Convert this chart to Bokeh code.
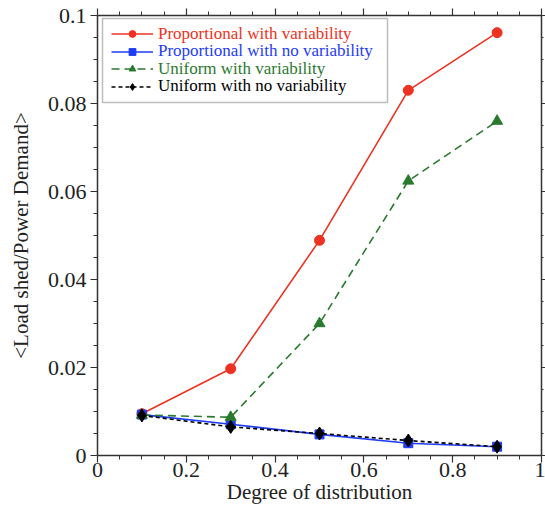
from bokeh.plotting import figure
from bokeh.models import (Legend, LegendItem, LinearAxis, Range1d, SingleIntervalTicker,
                          BoxAnnotation, CustomJSTickFormatter)
from bokeh.embed import file_html
from bokeh.resources import INLINE

# ---- data ----
x_vals = [0.1, 0.3, 0.5, 0.7, 0.9]
prop_var = [0.0095, 0.0197, 0.0489, 0.0830, 0.0961]
prop_novar = [0.0093, 0.0071, 0.0048, 0.0028, 0.0020]
unif_var = [0.0092, 0.0087, 0.0300, 0.0624, 0.0760]
unif_novar = [0.0091, 0.0065, 0.0050, 0.0034, 0.0020]

labels = ["Proportional with variability", "Proportional with no variability",
          "Uniform with variability", "Uniform with no variability"]
x_label = "Degree of distribution"
y_label = "<Load shed/Power Demand>"

FONT = "Liberation Serif"
RED, BLUE, GREEN, BLACK = "#ee3222", "#1e3cf5", "#2a7a2e", "#000000"
AXC = "#333333"

p = figure(width=545, height=510, output_backend="svg", toolbar_location=None,
           x_range=Range1d(0, 1), y_range=Range1d(0, 0.1),
           min_border_left=97, min_border_right=4, min_border_top=15, min_border_bottom=55)
p.outline_line_color = None
p.xgrid.visible = False
p.ygrid.visible = False
p.background_fill_color = "white"

def style_axis(ax, labels_on=True):
    ax.axis_line_color = AXC
    ax.axis_line_width = 1.5
    ax.major_tick_line_color = AXC
    ax.minor_tick_line_color = AXC
    ax.major_tick_line_width = 1.2
    ax.minor_tick_line_width = 1.0
    ax.major_tick_in = 0
    ax.major_tick_out = 7
    ax.minor_tick_in = 0
    ax.minor_tick_out = 4
    ax.major_label_text_font = FONT
    ax.major_label_text_font_size = "22px"
    ax.major_label_text_color = "#222222"
    ax.axis_label_text_font = FONT
    ax.axis_label_text_font_size = "21px"
    ax.axis_label_text_font_style = "normal"
    ax.axis_label_text_color = "#222222"
    if not labels_on:
        ax.formatter = CustomJSTickFormatter(code="return ''")
        ax.major_label_standoff = 0

p.xaxis.ticker = SingleIntervalTicker(interval=0.2, num_minor_ticks=4)
p.yaxis.ticker = SingleIntervalTicker(interval=0.02, num_minor_ticks=4)
p.xaxis.formatter = CustomJSTickFormatter(code="return (tick==0||tick==1) ? tick.toFixed(0) : String(Math.round(tick*10)/10)")
p.yaxis.formatter = CustomJSTickFormatter(code="return tick==0 ? '0' : String(Math.round(tick*100)/100)")
style_axis(p.xaxis[0])
style_axis(p.yaxis[0])
p.xaxis.axis_label = x_label
p.yaxis.axis_label = y_label
p.xaxis.major_label_standoff = 0
p.yaxis.major_label_standoff = 4
p.xaxis.axis_label_standoff = 0
p.yaxis.axis_label_standoff = 12

top_ax = LinearAxis(ticker=SingleIntervalTicker(interval=0.2, num_minor_ticks=4))
right_ax = LinearAxis(ticker=SingleIntervalTicker(interval=0.02, num_minor_ticks=4))
style_axis(top_ax, labels_on=False)
style_axis(right_ax, labels_on=False)
right_ax.major_tick_out = 4
right_ax.minor_tick_out = 2
p.add_layout(top_ax, "above")
p.add_layout(right_ax, "right")

series = [
    (prop_var, RED, "solid", "circle", 10),
    (prop_novar, BLUE, "solid", "square", 9),
    (unif_var, GREEN, "8 5", "triangle", 11),
    (unif_novar, BLACK, "4 3", "diamond", 13),
]

renderers = []
for ys, col, dash, mk, sz in series:
    ln = p.line(x_vals, ys, line_color=col, line_width=1.6, line_dash=dash)
    sc = p.scatter(x_vals, ys, marker=mk, size=sz, fill_color=col, line_color=col)
    renderers.append((ln, sc))

# legend box (screen units, relative to plot frame)
box = BoxAnnotation(left=5, right=290, top=437, bottom=353,
                    left_units="screen", right_units="screen", top_units="screen", bottom_units="screen",
                    fill_color="white", fill_alpha=1.0, line_color="#222222", line_width=1.5, level="overlay")
p.add_layout(box)

legend_y = [411.5, 394.0, 376.5, 359.0]
for (ln, sc), lab, (ys, col, dash, mk, sz), ly in zip(renderers, labels, series, legend_y):
    lg = Legend(items=[LegendItem(label=lab, renderers=[ln, sc])], location=(14, ly),
                glyph_width=42, glyph_height=17, label_height=17, label_standoff=5,
                padding=0, margin=0, spacing=0, border_line_color=None,
                background_fill_alpha=0, label_text_font=FONT, label_text_font_size="17px",
                label_text_color=col)
    p.add_layout(lg)

open("out.html", "w").write(file_html(p, INLINE))
